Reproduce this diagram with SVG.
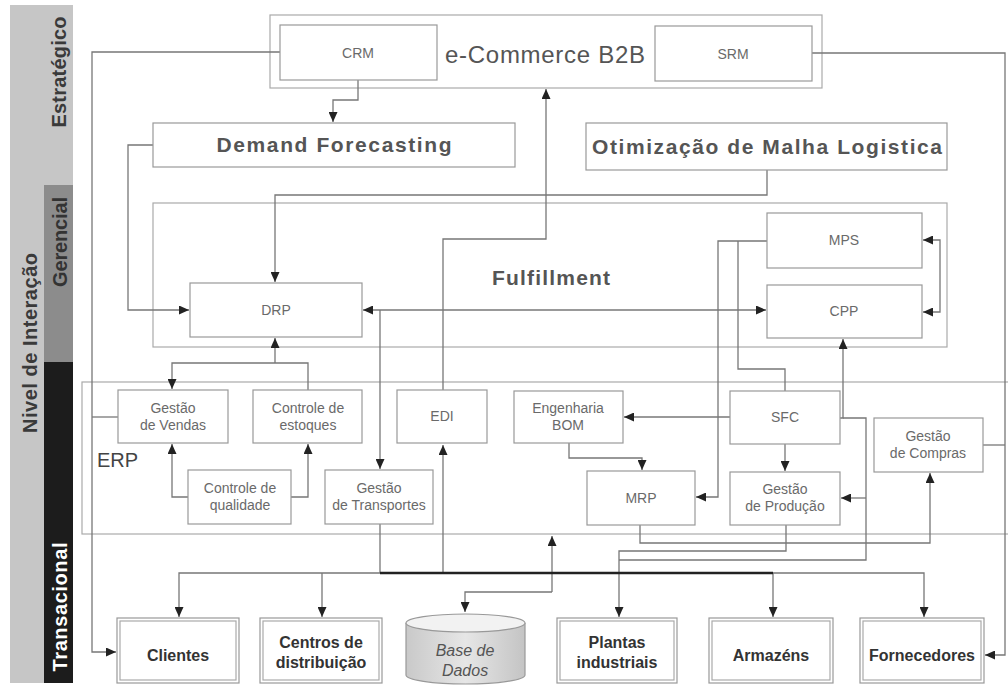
<svg xmlns="http://www.w3.org/2000/svg" width="1008" height="685" viewBox="0 0 1008 685">
  <defs>
    <marker id="arr" markerUnits="userSpaceOnUse" markerWidth="11" markerHeight="9" refX="10" refY="4.5" orient="auto-start-reverse">
      <path d="M0,0 L10,4.5 L0,9 z" fill="#222"/>
    </marker>
    <linearGradient id="dbfill" x1="0" y1="0" x2="1" y2="0">
      <stop offset="0" stop-color="#c9c9c9"/>
      <stop offset="0.5" stop-color="#e6e6e6"/>
      <stop offset="1" stop-color="#c4c4c4"/>
    </linearGradient>
  </defs>
  <style>
    .box { fill: #fff; stroke: #999; stroke-width: 1.2; }
    .frame { fill: none; stroke: #aaa; stroke-width: 1.2; }
    .lbl { font-family: "Liberation Sans", Arial, sans-serif; font-size: 14px; fill: #6a6a6a; text-anchor: middle; }
    .title { font-family: "Liberation Sans", Arial, sans-serif; font-weight: bold; font-size: 21px; fill: #555; text-anchor: middle; }
    .ent { font-family: "Liberation Sans", Arial, sans-serif; font-weight: bold; font-size: 16px; fill: #333; text-anchor: middle; }
    .side { font-family: "Liberation Sans", Arial, sans-serif; font-weight: bold; font-size: 20px; text-anchor: middle; }
    .conn { fill: none; stroke: #777; stroke-width: 1.3; }
    .bus { fill: none; stroke: #222; stroke-width: 2.5; }
  </style>

  <rect width="1008" height="685" fill="#fff"/>

  <!-- level strip -->
  <g id="levels">
    <rect x="10" y="5" width="63" height="678" fill="#c6c6c6"/>
    <rect x="44" y="185" width="29" height="177" fill="#8c8c8c"/>
    <rect x="44" y="362" width="29" height="321" fill="#1c1c1c"/>
    <text class="side" fill="#3a3a3a" transform="translate(37,343) rotate(-90)" textLength="180">Nivel de Interação</text>
    <text class="side" fill="#3a3a3a" transform="translate(66,72) rotate(-90)" textLength="111">Estratégico</text>
    <text class="side" fill="#333" transform="translate(67,242) rotate(-90)" textLength="90">Gerencial</text>
    <text class="side" fill="#fff" transform="translate(67,607) rotate(-90)" textLength="129">Transacional</text>
  </g>

  <!-- containers -->
  <g id="ecommerce">
    <rect class="frame" x="270" y="15" width="552" height="73"/>
    <text x="545" y="63" font-family="Liberation Sans, Arial, sans-serif" font-size="24" fill="#555" text-anchor="middle" textLength="200">e-Commerce B2B</text>
  </g>
  <g id="fulfillment">
    <rect class="frame" x="153" y="203" width="794" height="144"/>
    <text class="title" x="551" y="285" textLength="118">Fulfillment</text>
  </g>
  <g id="erp">
    <rect class="frame" x="82" y="382" width="932" height="152"/>
    <text x="97" y="467" font-family="Liberation Sans, Arial, sans-serif" font-size="20" fill="#444">ERP</text>
  </g>

  <!-- connectors -->
  <g id="connectors">
    <path class="conn" d="M280,52 H92 V652 H116" marker-end="url(#arr)"/>
    <path class="conn" d="M92,417 H118"/>
    <path class="conn" d="M358,80 V100 H333 V122" marker-end="url(#arr)"/>
    <path class="conn" d="M812,53 H1005 V655 H985" marker-end="url(#arr)"/>
    <path class="conn" d="M983,445 H1005"/>
    <path class="conn" d="M153,145 H128 V310 H189" marker-end="url(#arr)"/>
    <path class="conn" d="M767,170 V195 H275 V282" marker-end="url(#arr)"/>
    <path class="conn" d="M443,390 V239 H546 V89" marker-end="url(#arr)"/>
    <path class="conn" d="M363,310 H766" marker-start="url(#arr)" marker-end="url(#arr)"/>
    <path class="conn" d="M380,310 V469" marker-end="url(#arr)"/>
    <path class="conn" d="M923,240 H940 V312 H923" marker-start="url(#arr)" marker-end="url(#arr)"/>
    <path class="conn" d="M275,363 V338" marker-end="url(#arr)"/>
    <path class="conn" d="M308,390 V363 H172 V389" marker-end="url(#arr)"/>
    <path class="conn" d="M188,497 H172 V444" marker-end="url(#arr)"/>
    <path class="conn" d="M291,497 H308 V444" marker-end="url(#arr)"/>
    <path class="conn" d="M730,417 H624" marker-end="url(#arr)"/>
    <path class="conn" d="M569,443 V458 H642 V470" marker-end="url(#arr)"/>
    <path class="conn" d="M785,444 V471" marker-end="url(#arr)"/>
    <path class="conn" d="M767,241 H718 V497 H696" marker-end="url(#arr)"/>
    <path class="conn" d="M738,241 V369 H785 V391"/>
    <path class="conn" d="M840,418 H843 V339" marker-end="url(#arr)"/>
    <path class="conn" d="M843,418 H866 V560 H619"/>
    <path class="conn" d="M866,498 H841" marker-end="url(#arr)"/>
    <path class="conn" d="M640,525 V543 H930 V473" marker-end="url(#arr)"/>
    <path class="conn" d="M786,525 V551 H619 V617" marker-end="url(#arr)"/>
    <path class="conn" d="M380,524 V573"/>
    <path class="conn" d="M380,573 H179 V617" marker-end="url(#arr)"/>
    <path class="conn" d="M322,573 V617" marker-end="url(#arr)"/>
    <path class="conn" d="M773,573 V617" marker-end="url(#arr)"/>
    <path class="conn" d="M773,573 H924 V617" marker-end="url(#arr)"/>
    <path class="conn" d="M443,573 V445" marker-end="url(#arr)"/>
    <path class="conn" d="M552,592 V536" marker-end="url(#arr)"/>
    <path class="conn" d="M552,592 H465 V612" marker-end="url(#arr)"/>
    <path class="bus" d="M380,573 H773"/>
  </g>

  <!-- strategic -->
  <g id="crm">
    <rect class="box" x="280" y="25" width="157" height="55"/>
    <text class="lbl" x="358" y="58" font-size="13">CRM</text>
  </g>
  <g id="srm">
    <rect class="box" x="655" y="26" width="157" height="55"/>
    <text class="lbl" x="733" y="59" font-size="13">SRM</text>
  </g>
  <g id="demand-forecasting">
    <rect class="box" x="153" y="123" width="362" height="44"/>
    <text class="title" x="334" y="152" textLength="235">Demand Forecasting</text>
  </g>
  <g id="otimizacao">
    <rect class="box" x="586" y="123" width="361" height="47"/>
    <text class="title" x="767" y="154" textLength="350">Otimização de Malha Logistica</text>
  </g>

  <!-- management -->
  <g id="drp">
    <rect class="box" x="190" y="283" width="172" height="54"/>
    <text class="lbl" x="276" y="315">DRP</text>
  </g>
  <g id="mps">
    <rect class="box" x="767" y="213" width="155" height="55"/>
    <text class="lbl" x="844" y="245">MPS</text>
  </g>
  <g id="cpp">
    <rect class="box" x="767" y="285" width="155" height="53"/>
    <text class="lbl" x="844" y="316">CPP</text>
  </g>

  <!-- ERP modules -->
  <g id="gestao-vendas">
    <rect class="box" x="118" y="390" width="110" height="53"/>
    <text class="lbl" x="173" y="413">Gestão</text>
    <text class="lbl" x="173" y="430">de Vendas</text>
  </g>
  <g id="controle-estoques">
    <rect class="box" x="253" y="390" width="109" height="53"/>
    <text class="lbl" x="308" y="413">Controle de</text>
    <text class="lbl" x="308" y="430">estoques</text>
  </g>
  <g id="edi">
    <rect class="box" x="397" y="390" width="90" height="53"/>
    <text class="lbl" x="442" y="421">EDI</text>
  </g>
  <g id="engenharia-bom">
    <rect class="box" x="514" y="391" width="109" height="52"/>
    <text class="lbl" x="568" y="413">Engenharia</text>
    <text class="lbl" x="568" y="430">BOM</text>
  </g>
  <g id="sfc">
    <rect class="box" x="730" y="391" width="110" height="53"/>
    <text class="lbl" x="785" y="422">SFC</text>
  </g>
  <g id="gestao-compras">
    <rect class="box" x="874" y="418" width="109" height="54"/>
    <text class="lbl" x="928" y="441">Gestão</text>
    <text class="lbl" x="928" y="458">de Compras</text>
  </g>
  <g id="controle-qualidade">
    <rect class="box" x="188" y="470" width="103" height="54"/>
    <text class="lbl" x="240" y="493">Controle de</text>
    <text class="lbl" x="240" y="510">qualidade</text>
  </g>
  <g id="gestao-transportes">
    <rect class="box" x="325" y="470" width="108" height="54"/>
    <text class="lbl" x="379" y="493">Gestão</text>
    <text class="lbl" x="379" y="510">de Transportes</text>
  </g>
  <g id="mrp">
    <rect class="box" x="587" y="471" width="108" height="54"/>
    <text class="lbl" x="641" y="503">MRP</text>
  </g>
  <g id="gestao-producao">
    <rect class="box" x="730" y="472" width="110" height="53"/>
    <text class="lbl" x="785" y="494">Gestão</text>
    <text class="lbl" x="785" y="511">de Produção</text>
  </g>

  <!-- transactional entities -->
  <g id="clientes">
    <rect class="box" x="117" y="618" width="122" height="65"/>
    <rect class="frame" x="120" y="621" width="116" height="59"/>
    <text class="ent" x="178" y="661">Clientes</text>
  </g>
  <g id="centros-distribuicao">
    <rect class="box" x="260" y="618" width="122" height="65"/>
    <rect class="frame" x="263" y="621" width="116" height="59"/>
    <text class="ent" x="321" y="648">Centros de</text>
    <text class="ent" x="321" y="668">distribuição</text>
  </g>
  <g id="base-dados">
    <path d="M406,623 V675 A59.5,9 0 0 0 525,675 V623" fill="url(#dbfill)" stroke="#999" stroke-width="1.2"/>
    <ellipse cx="465.5" cy="623" rx="59.5" ry="9" fill="#f2f2f2" stroke="#999" stroke-width="1.2"/>
    <text x="465" y="656" font-family="Liberation Sans, Arial, sans-serif" font-style="italic" font-size="16" fill="#555" text-anchor="middle">Base de</text>
    <text x="465" y="676" font-family="Liberation Sans, Arial, sans-serif" font-style="italic" font-size="16" fill="#555" text-anchor="middle">Dados</text>
  </g>
  <g id="plantas-industriais">
    <rect class="box" x="557" y="618" width="120" height="65"/>
    <rect class="frame" x="560" y="621" width="114" height="59"/>
    <text class="ent" x="617" y="648">Plantas</text>
    <text class="ent" x="617" y="668">industriais</text>
  </g>
  <g id="armazens">
    <rect class="box" x="709" y="618" width="124" height="65"/>
    <rect class="frame" x="712" y="621" width="118" height="59"/>
    <text class="ent" x="771" y="661">Armazéns</text>
  </g>
  <g id="fornecedores">
    <rect class="box" x="860" y="618" width="124" height="65"/>
    <rect class="frame" x="863" y="621" width="118" height="59"/>
    <text class="ent" x="922" y="661" textLength="106">Fornecedores</text>
  </g>
</svg>
